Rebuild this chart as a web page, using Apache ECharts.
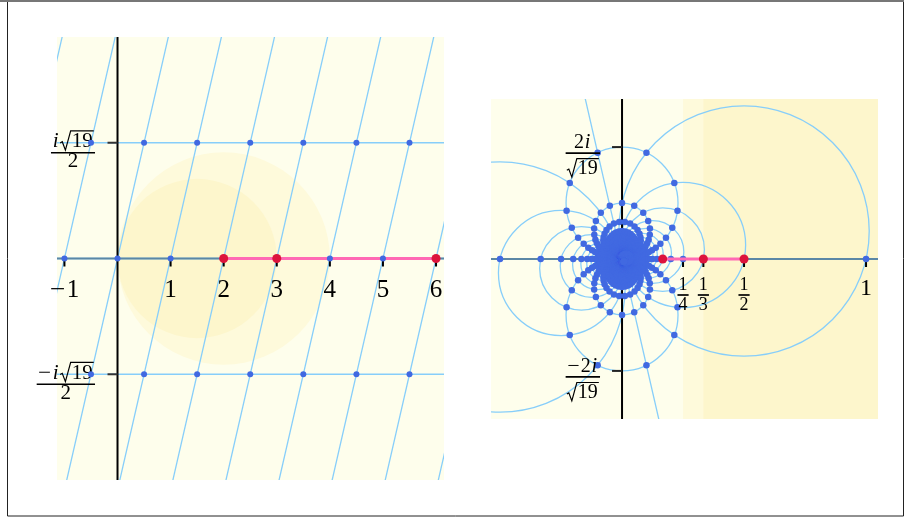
<!DOCTYPE html>
<html><head><meta charset="utf-8">
<script src="https://cdn.jsdelivr.net/npm/echarts@6/dist/echarts.min.js"></script>
<style>html,body{margin:0;padding:0;background:#fff}#c{width:904px;height:521px}</style>
</head><body><div id="c"></div><script>
// ---------------- data ----------------
const S19 = Math.sqrt(19);
const OMEGA = [0.5, S19 / 2];                 // lattice generator (1 + i*sqrt(19))/2
const latticeA = [-30,-29,-28,-27,-26,-25,-24,-23,-22,-21,-20,-19,-18,-17,-16,-15,-14,-13,-12,-11,-10,-9,-8,-7,-6,-5,-4,-3,-2,-1,0,1,2,3,4,5,6,7,8,9,10,11,12,13,14,15,16,17,18,19,20,21,22,23,24,25,26,27,28,29,30];
const latticeB = [-30,-29,-28,-27,-26,-25,-24,-23,-22,-21,-20,-19,-18,-17,-16,-15,-14,-13,-12,-11,-10,-9,-8,-7,-6,-5,-4,-3,-2,-1,0,1,2,3,4,5,6,7,8,9,10,11,12,13,14,15,16,17,18,19,20,21,22,23,24,25,26,27,28,29,30];
const redInts = [2, 3, 6];
const pinkRange = [2, 6];
const discs = [[2, 2], [1.5, 1.5]];           // [centre on real axis, radius] in left plane
const leftXTicks = [-1, 1, 2, 3, 4, 5, 6];
const leftXLabels = ['−1', '1', '2', '3', '4', '5', '6'];
const leftYTicks = [S19 / 2, -S19 / 2];
const leftYLabels = [['i√19', '2'], ['−i√19', '2']];
const rightXTicks = [1 / 4, 1 / 3, 1 / 2, 1];
const rightXLabels = [['1', '4'], ['1', '3'], ['1', '2'], '1'];
const rightYTicks = [2 / S19, -2 / S19];
const rightYLabels = [['2i', '√19'], ['−2i', '√19']];
const leftRange = { x: [-1.14, 6.15], y: [-4.17, 4.17] };
const rightRange = { x: [-0.537, 1.049], y: [-0.656, 0.656] };

// ---------------- geometry ----------------
function lp(a, b) { return [a + b * OMEGA[0], b * OMEGA[1]]; }
function inv(p) { const d = p[0] * p[0] + p[1] * p[1]; return [p[0] / d, -p[1] / d]; }
const leftPts = [], rightPts = [];
latticeA.forEach(a => latticeB.forEach(b => {
  const p = lp(a, b);
  if (Math.abs(p[0]) < 12 && Math.abs(p[1]) < 12) leftPts.push(p);
  if (a !== 0 || b !== 0) rightPts.push(inv(p));
}));
const lines = [];
latticeB.forEach(b => lines.push({ P: lp(0, b), D: [1, 0] }));
latticeA.forEach(a => lines.push({ P: lp(a, 0), D: OMEGA }));
const leftSegs = [], rightSegs = [], rightCircles = [];
lines.forEach(L => {
  const n = Math.hypot(L.D[0], L.D[1]); const u = [L.D[0] / n, L.D[1] / n];
  leftSegs.push([L.P[0] - 12 * u[0], L.P[1] - 12 * u[1], L.P[0] + 12 * u[0], L.P[1] + 12 * u[1]]);
  const t = L.P[0] * u[0] + L.P[1] * u[1];
  const p0 = [L.P[0] - t * u[0], L.P[1] - t * u[1]];
  const d = p0[0] * p0[0] + p0[1] * p0[1];
  if (d < 1e-12) rightSegs.push([-5 * u[0], 5 * u[1], 5 * u[0], -5 * u[1]]);
  else rightCircles.push([p0[0] / (2 * d), -p0[1] / (2 * d), 1 / (2 * Math.sqrt(d))]);
});
const leftRed = redInts.map(v => [v, 0]);
const rightRed = redInts.map(v => inv([v, 0]));

// ---------------- styles ----------------
const BG = '#fefeec', L1 = '#fefadb', L2 = '#fdf6cc';
const LINE = '#87cefa', AXISX = '#5b87a6', BLUE = '#4169e1', RED = '#dc143c', PINK = '#ff69b4';
const FONT = '"Liberation Serif", "DejaVu Serif", serif';

const mctx = document.createElement('canvas').getContext('2d');
function tw(t, f) { mctx.font = f; return mctx.measureText(t).width; }
function fnt(fs, it) { return (it ? 'italic ' : '') + fs + 'px ' + FONT; }
function textEl(t, x, y, f) {
  return { type: 'text', x: x, y: y, style: { text: t, font: f, fill: '#000', textAlign: 'left', align: 'left', textVerticalAlign: 'middle', verticalAlign: 'middle' } };
}
function row(str, fs) {
  const parts = []; let w = 0;
  for (let i = 0; i < str.length; i++) {
    const ch = str[i];
    if (ch === '√') {
      let j = i + 1, r = '';
      while (j < str.length && /[0-9]/.test(str[j])) { r += str[j]; j++; }
      const ws = fs * 0.55, wr = tw(r, fnt(fs));
      parts.push({ k: 'sqrt', t: r, x: w, ws, wr }); w += ws + wr + fs * 0.05; i = j - 1;
    } else if (/[a-z]/.test(ch)) {
      parts.push({ k: 'it', t: ch, x: w + fs * 0.03 }); w += tw(ch, fnt(fs, true)) + fs * 0.1;
    } else if (ch === '−') {
      parts.push({ k: 'minus', t: ch, x: w, mw: fs * 0.62 }); w += fs * 0.68;
    } else {
      parts.push({ k: 'rm', t: ch, x: w }); w += tw(ch, fnt(fs));
    }
  }
  return { w, parts, fs };
}
function place(r, cx, cy) {
  const x0 = cx - r.w / 2, fs = r.fs, els = [];
  r.parts.forEach(p => {
    if (p.k === 'sqrt') {
      const x = x0 + p.x, top = cy - fs * 0.52;
      els.push({ type: 'polyline', shape: { points: [[x, cy + fs * 0.06], [x + fs * 0.1, cy + fs * 0.0], [x + fs * 0.25, cy + fs * 0.4], [x + fs * 0.5, top], [x + p.ws + p.wr + 1, top]] },
        style: { fill: null, stroke: '#000', lineWidth: 1.2 } });
      els.push(textEl(p.t, x + p.ws, cy, fnt(fs)));
    } else if (p.k === 'minus') {
      // minus sign drawn as text stretched to the math-minus width
      const gw = tw('−', fnt(fs));
      els.push({ type: 'text', x: x0 + p.x, y: cy, scaleX: p.mw / gw, style: { text: '−', font: fnt(fs), fill: '#000', textAlign: 'left', align: 'left', textVerticalAlign: 'middle', verticalAlign: 'middle' } });
    } else els.push(textEl(p.t, x0 + p.x, cy, fnt(fs, p.k === 'it')));
  });
  return els;
}
function frac(num, den, fs, cx, barY, gN, gD, rightEdge) {
  const rn = row(num, fs), rd = row(den, fs);
  const bw = Math.max(rn.w, rd.w) + fs * 0.12;
  if (rightEdge !== undefined) cx = rightEdge - bw / 2;
  return [].concat(place(rn, cx, barY - gN),
    [{ type: 'line', shape: { x1: cx - bw / 2, y1: barY, x2: cx + bw / 2, y2: barY }, style: { stroke: '#000', lineWidth: 1.7 } }],
    place(rd, cx, barY + gD));
}

// ---------------- series builders ----------------
function segSeries(gi, data, color, width) {
  return { type: 'custom', xAxisIndex: gi, yAxisIndex: gi, clip: true, silent: true, data, encode: { x: 0, y: 1 },
    renderItem(params, api) {
      const a = api.coord([api.value(0), api.value(1)]), b = api.coord([api.value(2), api.value(3)]);
      return { type: 'line', shape: { x1: a[0], y1: a[1], x2: b[0], y2: b[1] }, style: { stroke: color, lineWidth: width } };
    } };
}
function circSeries(gi, data, style) {
  return { type: 'custom', xAxisIndex: gi, yAxisIndex: gi, clip: true, silent: true, data, encode: { x: 0, y: 1 },
    renderItem(params, api) {
      const c = api.coord([api.value(0), api.value(1)]);
      const r = api.size([api.value(2), 0])[0];
      return { type: 'circle', shape: { cx: c[0], cy: c[1], r }, style };
    } };
}
function bandSeries(gi, data, color) {
  return { type: 'custom', xAxisIndex: gi, yAxisIndex: gi, clip: true, silent: true, data: data.map(v => [v]), encode: { x: 0 },
    renderItem(params, api) {
      const a = api.coord([api.value(0), 5]), b = api.coord([50, -5]);
      return { type: 'rect', shape: { x: a[0], y: a[1], width: b[0] - a[0], height: b[1] - a[1] }, style: { fill: color } };
    } };
}
function tickSeries(gi, vals, isX, color) {
  return { type: 'custom', xAxisIndex: gi, yAxisIndex: gi, clip: false, silent: true, data: vals.map(v => isX ? [v, 0] : [0, v]), encode: { x: 0, y: 1 },
    renderItem(params, api) {
      const p = api.coord([api.value(0), api.value(1)]);
      const shape = isX ? { x1: p[0], y1: p[1] + 1, x2: p[0], y2: p[1] + 8 } : { x1: p[0] - 10, y1: p[1], x2: p[0], y2: p[1] };
      return { type: 'line', shape, style: { stroke: color, lineWidth: 2 } };
    } };
}
function labelSeries(gi, vals, isX, draw) {
  return { type: 'custom', xAxisIndex: gi, yAxisIndex: gi, clip: false, silent: true, data: vals.map(v => isX ? [v, 0] : [0, v]), encode: { x: 0, y: 1 },
    renderItem(params, api) {
      const p = api.coord([api.value(0), api.value(1)]);
      return { type: 'group', children: draw(params.dataIndex, p) };
    } };
}
function scat(gi, data, color, size) {
  return { type: 'scatter', xAxisIndex: gi, yAxisIndex: gi, clip: true, silent: true, large: false, progressive: 0, data, symbol: 'circle', symbolSize: size, itemStyle: { color, opacity: 1 } };
}

const series = [
  // left panel
  circSeries(0, discs.map(d => [d[0], 0, d[1]]).slice(0, 1), { fill: L1 }),
  circSeries(0, discs.map(d => [d[0], 0, d[1]]).slice(1), { fill: L2 }),
  segSeries(0, leftSegs, LINE, 1.3),
  segSeries(0, [[0, -20, 0, 20]], '#000', 2),
  segSeries(0, [[-20, 0, 20, 0]], AXISX, 2),
  tickSeries(0, leftXTicks, true, '#000'),
  tickSeries(0, leftYTicks, false, '#333'),
  scat(0, leftPts, BLUE, 6),
  segSeries(0, [[pinkRange[0], 0, pinkRange[1], 0]], PINK, 3),
  scat(0, leftRed, RED, 9),
  labelSeries(0, leftXTicks, true, (i, p) => {
    const r = row(leftXLabels[i], 25); return place(r, p[0], p[1] + 31.5);
  }),
  labelSeries(0, leftYTicks, false, (i, p) => frac(leftYLabels[i][0], leftYLabels[i][1], 21, 0, p[1] + 10, 11, 9, p[0] - 22.5)),
  // right panel
  bandSeries(1, [rightXTicks[0]], L1),
  bandSeries(1, [rightXTicks[1]], L2),
  circSeries(1, rightCircles, { fill: 'transparent', stroke: LINE, lineWidth: 1.3 }),
  segSeries(1, rightSegs, LINE, 1.3),
  segSeries(1, [[0, -20, 0, 20]], '#000', 2),
  segSeries(1, [[-20, 0, 20, 0]], AXISX, 2),
  tickSeries(1, rightXTicks, true, '#000'),
  tickSeries(1, rightYTicks, false, '#222'),
  scat(1, rightPts, BLUE, 6.5),
  segSeries(1, [[rightRed[2][0], 0, rightRed[0][0], 0]], PINK, 3),
  scat(1, rightRed, RED, 9),
  labelSeries(1, rightXTicks, true, (i, p) => {
    const L = rightXLabels[i];
    if (typeof L === 'string') return place(row(L, 24), p[0], p[1] + 30);
    return frac(L[0], L[1], 18, p[0], p[1] + 36, 10, 10);
  }),
  labelSeries(1, rightYTicks, false, (i, p) => frac(rightYLabels[i][0], rightYLabels[i][1], 20, 0, p[1] + 6, 10.5, 16, p[0] - 22))
];

const chart = echarts.init(document.getElementById('c'), null, { renderer: 'canvas' });
chart.setOption({
  animation: false,
  backgroundColor: '#fff',
  grid: [
    { left: 57, top: 37, width: 387, height: 443, show: true, backgroundColor: BG, borderWidth: 0 },
    { left: 491, top: 99, width: 387, height: 320, show: true, backgroundColor: BG, borderWidth: 0 }
  ],
  xAxis: [
    { gridIndex: 0, type: 'value', min: leftRange.x[0], max: leftRange.x[1], show: false },
    { gridIndex: 1, type: 'value', min: rightRange.x[0], max: rightRange.x[1], show: false }
  ],
  yAxis: [
    { gridIndex: 0, type: 'value', min: leftRange.y[0], max: leftRange.y[1], show: false },
    { gridIndex: 1, type: 'value', min: rightRange.y[0], max: rightRange.y[1], show: false }
  ],
  graphic: [
    { type: 'rect', shape: { x: 7.5, y: 1, width: 896, height: 515 }, style: { fill: null, stroke: '#222', lineWidth: 1 }, silent: true },
    { type: 'line', shape: { x1: 0, y1: 1, x2: 904, y2: 1 }, style: { stroke: '#777', lineWidth: 2 }, silent: true }
  ],
  series
});
</script></body></html>
